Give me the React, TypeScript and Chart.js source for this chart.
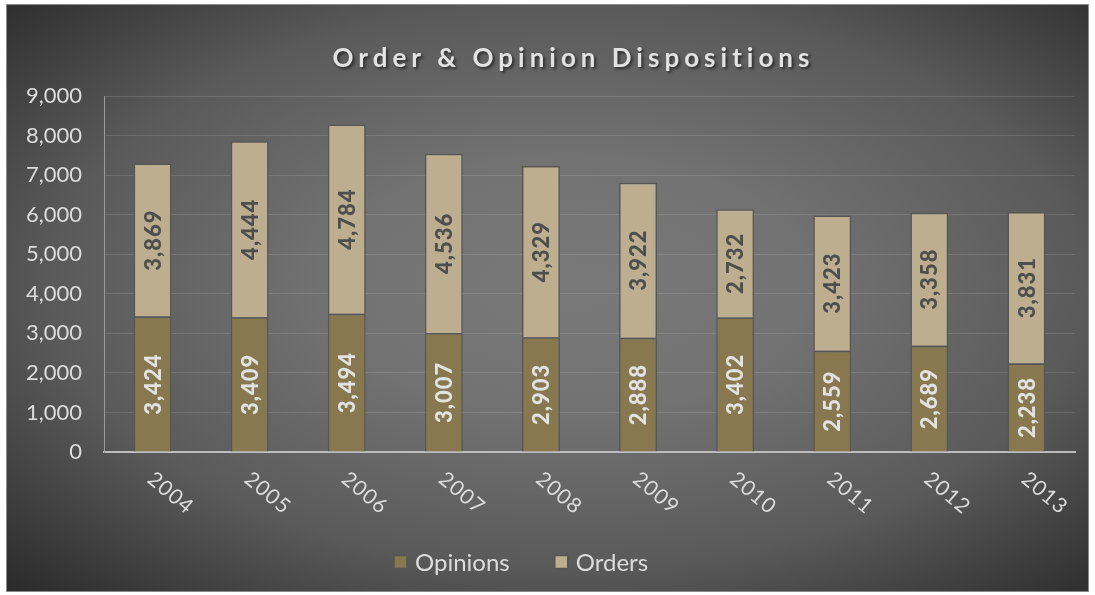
import React, { useEffect, useRef } from "react";
import { Chart, registerables } from "chart.js";

Chart.register(...registerables);

const years = ["2004", "2005", "2006", "2007", "2008", "2009", "2010", "2011", "2012", "2013"];
const opinions = [3424, 3409, 3494, 3007, 2903, 2888, 3402, 2559, 2689, 2238];
const orders = [3869, 4444, 4784, 4536, 4329, 3922, 2732, 3423, 3358, 3831];
const seriesNames = ["Opinions", "Orders"];
const titleText = "Order & Opinion Dispositions";

const FONT = "Lato, 'Open Sans', sans-serif";
const COL_OPIN = "#877850";
const COL_ORD = "#bcae8e";

const fmt = (v: number) => v.toLocaleString("en-US");

const overlayPlugin = {
  id: "overlay",
  afterDraw(chart: any) {
    const ctx = chart.ctx as CanvasRenderingContext2D;
    const area = chart.chartArea;
    // Title
    ctx.save();
    ctx.font = `bold 26px ${FONT}`;
    (ctx as any).letterSpacing = "5px";
    ctx.textAlign = "center";
    ctx.textBaseline = "middle";
    ctx.shadowColor = "rgba(0,0,0,0.55)";
    ctx.shadowOffsetX = 2;
    ctx.shadowOffsetY = 2;
    ctx.shadowBlur = 3;
    ctx.fillStyle = "#e2e2e2";
    ctx.fillText(titleText, chart.width / 2 + 26, 54);
    ctx.restore();

    // X labels (rotated clockwise)
    const xs = chart.scales.x;
    ctx.save();
    ctx.font = `21px ${FONT}`;
    (ctx as any).letterSpacing = "1px";
    ctx.fillStyle = "#dcdcdc";
    ctx.textAlign = "center";
    ctx.textBaseline = "middle";
    years.forEach((y, i) => {
      const px = xs.getPixelForValue(i) + 18;
      const py = area.bottom + 41;
      ctx.save();
      ctx.translate(px, py);
      ctx.rotate((40 * Math.PI) / 180);
      ctx.fillText(y, 0, 0);
      ctx.restore();
    });
    ctx.restore();

    // Data labels
    const colors = ["#e2e2e2", "#4e4e4e"];
    chart.data.datasets.forEach((ds: any, di: number) => {
      const meta = chart.getDatasetMeta(di);
      meta.data.forEach((bar: any, i: number) => {
        const cy = (bar.y + bar.base) / 2;
        ctx.save();
        ctx.translate(bar.x, cy);
        ctx.rotate(-Math.PI / 2);
        ctx.font = `900 22px ${FONT}`;
        (ctx as any).letterSpacing = "1px";
        ctx.fillStyle = colors[di];
        ctx.textAlign = "center";
        ctx.textBaseline = "middle";
        ctx.fillText(fmt(ds.data[i]), 0, 1);
        ctx.restore();
      });
    });

    // Legend
    ctx.save();
    ctx.font = `24px ${FONT}`;
    ctx.textBaseline = "middle";
    ctx.textAlign = "left";
    const ly = 557;
    let lx = 387;
    chart.data.datasets.forEach((ds: any, di: number) => {
      ctx.fillStyle = ds.backgroundColor;
      ctx.strokeStyle = "#555555";
      ctx.lineWidth = 1.5;
      ctx.fillRect(lx, ly - 6.5, 13, 13);
      ctx.strokeRect(lx, ly - 6.5, 13, 13);
      ctx.fillStyle = "#dcdcdc";
      ctx.fillText(seriesNames[di], lx + 21, ly + 1);
      const w = ctx.measureText(seriesNames[di]).width;
      lx = lx + 21 + w + 45;
    });
    ctx.restore();
  },
};

export default function App() {
  const ref = useRef<HTMLCanvasElement>(null);
  useEffect(() => {
    document.body.style.margin = "0";
    const chart = new Chart(ref.current!, {
      type: "bar",
      data: {
        labels: years,
        datasets: [
          {
            label: seriesNames[0],
            data: opinions,
            backgroundColor: COL_OPIN,
            borderColor: "#565656",
            borderWidth: 1.5,
            barPercentage: 0.39,
            categoryPercentage: 1,
          },
          {
            label: seriesNames[1],
            data: orders,
            backgroundColor: COL_ORD,
            borderColor: "#565656",
            borderWidth: 1.5,
            barPercentage: 0.39,
            categoryPercentage: 1,
          },
        ],
      },
      options: {
        animation: false,
        responsive: false,
        layout: { padding: { top: 91, right: 13, left: 0, bottom: 0 } },
        plugins: {
          title: { display: false },
          tooltip: { enabled: false },
          legend: { display: false },
        },
        scales: {
          x: {
            stacked: true,
            grid: { display: false, drawTicks: false },
            border: { display: true, color: "#bdbdbd", width: 2 },
            ticks: { display: false },
            afterFit: (s: any) => {
              s.height = 139;
            },
          },
          y: {
            stacked: true,
            min: 0,
            max: 9000,
            grid: { color: "rgba(255,255,255,0.12)", lineWidth: 1, drawTicks: false },
            border: { display: true, color: "#9a9a9a", width: 1 },
            ticks: {
              stepSize: 1000,
              color: "#dcdcdc",
              padding: 22,
              font: { family: FONT, size: 22 },
              callback: (v: any) => fmt(Number(v)),
            },
            afterFit: (s: any) => {
              s.width = 97;
            },
          },
        },
      },
      plugins: [overlayPlugin],
    });
    return () => chart.destroy();
  }, []);

  return (
    <div style={{ position: "relative", width: 1095, height: 595, background: "#ffffff" }}>
      <div
        style={{
          position: "absolute",
          left: 6,
          top: 4,
          width: 1083,
          height: 588,
          boxSizing: "border-box",
          border: "1px solid #8a8a8a",
          background:
            "radial-gradient(ellipse farthest-corner at 52% 48%, #797979 0%, #727272 30%, #5a5a5a 65%, #2a2a2a 100%)",
        }}
      >
        <canvas ref={ref} width={1081} height={586} style={{ display: "block" }} />
      </div>
    </div>
  );
}
